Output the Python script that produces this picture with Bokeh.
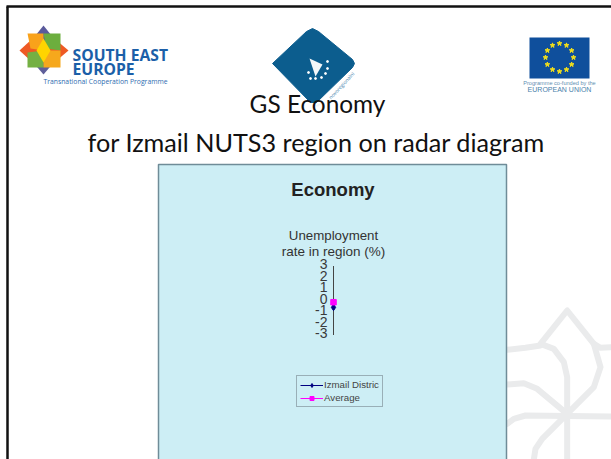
import math
from bokeh.embed import file_html
from bokeh.resources import INLINE
from bokeh.plotting import figure
from bokeh.models import Range1d, Legend, LegendItem
from bokeh.core.properties import value

# ---- chart data ----
categories = ["Unemployment rate in region (%)"]
izmail_values = [-0.6]
average_values = [-0.15]
tick_values = [3, 2, 1, 0, -1, -2, -3]
tick_labels = ["3", "2", "1", "0", "-1", "-2", "-3"]
series_names = ["Izmail Distric", "Average"]

W, H = 611, 459
p = figure(width=W, height=H, output_backend="svg", toolbar_location=None,
           x_range=Range1d(0, W), y_range=Range1d(H, 0),
           x_axis_type=None, y_axis_type=None, min_border=0,
           outline_line_color=None, background_fill_color="white",
           border_fill_color="white")
p.grid.visible = False

# radar scale: value 0 sits at pixel row 300, 11.5 px per unit; spoke at column 333
ZERO_Y, UNIT = 300.0, 11.5
SPOKE_X = 333.0
p.extra_y_ranges["radar"] = Range1d(start=(ZERO_Y - H) / UNIT, end=ZERO_Y / UNIT)
p.extra_x_ranges["radar"] = Range1d(start=-SPOKE_X, end=W - SPOKE_X)


def txt(x, y, s, size, color="black", font="Liberation Sans", style="normal",
        align="left", angle=0):
    p.text([x], [y], text=[s], text_font=value(font), text_font_size=value(f"{size}px"),
           text_font_style=style, text_color=color, text_align=align,
           text_baseline="middle", angle=angle)


# ---- slide watermark ----
def wm(points):
    p.line([450 + a / 3 for a, b in points], [290 + b / 3 for a, b in points],
           line_color="#eaebec", line_width=6, line_join="round", line_cap="round")


wm([(350, 370), (430, 290), (450, 230), (430, 160), (350, 60), (270, 160),
    (310, 175), (340, 215), (350, 260), (350, 507)])
wm([(170, 178), (225, 172), (270, 165)])
wm([(430, 160), (450, 172), (483, 170)])
wm([(170, 282), (220, 278), (260, 295), (350, 370)])
wm([(170, 400), (190, 385), (225, 375), (483, 378)])
wm([(350, 370), (275, 445), (255, 475), (250, 507)])

# ---- slide frame ----
p.line([7, 7], [6, H], line_color="#111111", line_width=2.5)
p.line([6, W], [6, 6], line_color="#111111", line_width=2.5)

# ---- South East Europe logo ----
p.patch([43, 55, 43, 31], [25, 40, 50, 40], fill_color="#5a5a9c", line_color=None)
p.patch([43, 55, 43, 31], [74, 60, 50, 60], fill_color="#5f5f9a", line_color=None)
p.patch([19, 31, 43, 31], [50, 39, 50, 61], fill_color="#ee5a24", line_color=None)
p.patch([68, 55, 43, 55], [50, 39, 50, 61], fill_color="#ee5a24", line_color=None)
p.patch([27, 43, 43, 30], [33, 33, 50, 48], fill_color="#f9a21b", line_color=None)
p.patch([43, 60, 60, 46], [33, 33, 50, 48], fill_color="#6cae3e", line_color=None)
p.patch([27, 43, 43, 27], [52, 50, 67, 67], fill_color="#74b043", line_color=None)
p.patch([43, 60, 60, 43], [50, 50, 67, 67], fill_color="#f6a81c", line_color=None)
p.patch([43, 50, 43, 36], [38, 50, 62, 50], fill_color="#ffd400", line_color=None)
txt(72, 54.5, "SOUTH EAST", 15.7, "#1b5fa8", "Open Sans", "bold")
txt(72, 68.5, "EUROPE", 15.7, "#1b5fa8", "Open Sans", "bold")
txt(43, 80.5, "Transnational Cooperation Programme", 6.8, "#2f6db0", "Open Sans")

# ---- central diamond logo ----
p.patch([322, 358, 318, 312], [102, 66, 106, 106], fill_color="#f2f6f8", line_color=None)
p.patch([272, 306, 312, 318, 352, 354, 352, 316, 310],
        [63, 31, 28, 31, 59, 63, 67, 102, 102],
        fill_color="#0c5d8e", line_color="#0c5d8e", line_width=1, line_join="round")
p.patch([309, 322, 315], [58, 64, 76], fill_color="#f4f7f9", line_color=None)
p.scatter([327, 327, 325, 321, 315, 310, 308], [61, 68, 73, 77, 78, 78, 72],
          size=2, color="white")
txt(341, 85, "novoregionalni", 5, "#3f83ad", "Open Sans", angle=0.82, align="center")

# ---- EU flag ----
p.quad(left=[529], right=[589], top=[37], bottom=[78], fill_color="#0f4f9c", line_color=None)
p.scatter([559 + 14 * math.cos(math.radians(a)) for a in range(0, 360, 30)],
          [57 + 14 * math.sin(math.radians(a)) for a in range(0, 360, 30)],
          marker="star", size=5, color="#f5e11a")
txt(559, 82, "Programme co-funded by the", 5.6, "#5f8fb2", align="center")
txt(559, 89, "EUROPEAN UNION", 7, "#4a82ab", align="center")

# ---- slide titles ----
txt(317, 103, "GS Economy", 24.4, "#111111", "Lato", align="center")
txt(316, 141, "for Izmail NUTS3 region on radar diagram", 25.2, "#111111", "Lato", align="center")

# ---- chart panel ----
p.quad(left=[158], right=[506], top=[164], bottom=[H + 3], fill_color="#cdeef5",
       line_color="#6f8c98", line_width=1.5)
txt(332.5, 189, "Economy", 18.5, "#222222", style="bold", align="center")
txt(333, 235, "Unemployment", 13.3, "#333333", align="center")
txt(333, 251, "rate in region (%)", 13.5, "#333333", align="center")

# spoke, tick labels and series through the radar scale
p.line([0, 0], [max(tick_values), min(tick_values)], x_range_name="radar", y_range_name="radar",
       line_color="#444444", line_width=1)
p.text([-6] * len(tick_values), tick_values, text=tick_labels, x_range_name="radar",
       y_range_name="radar", text_font=value("Liberation Sans"),
       text_font_size=value("14px"), text_color="#3a3a3a", text_align="right",
       text_baseline="middle", y_offset=-2)

xs = [0 for _ in categories]
l1 = p.line(xs, izmail_values, x_range_name="radar", y_range_name="radar",
            line_color="#000080", line_width=1)
m1 = p.scatter(xs, izmail_values, x_range_name="radar", y_range_name="radar",
               marker="diamond", size=6.5, color="#000080")
l2 = p.line(xs, average_values, x_range_name="radar", y_range_name="radar",
            line_color="#ff00ff", line_width=1)
m2 = p.scatter(xs, average_values, x_range_name="radar", y_range_name="radar",
               marker="square", size=5.5, color="#ff00ff")

legend = Legend(items=[LegendItem(label=series_names[0], renderers=[l1, m1]),
                       LegendItem(label=series_names[1], renderers=[l2, m2])],
                location=(296, H - 407), orientation="vertical",
                background_fill_color="#cdeef5", background_fill_alpha=1,
                border_line_color="#66707a", border_line_width=1,
                label_text_font="Liberation Sans", label_text_font_size="9.7px",
                label_text_color="#444444", glyph_width=23, glyph_height=10,
                label_height=10, label_standoff=1, spacing=2, padding=3, margin=0)
p.add_layout(legend, "center")

open("out.html", "w").write(file_html(p, INLINE))
